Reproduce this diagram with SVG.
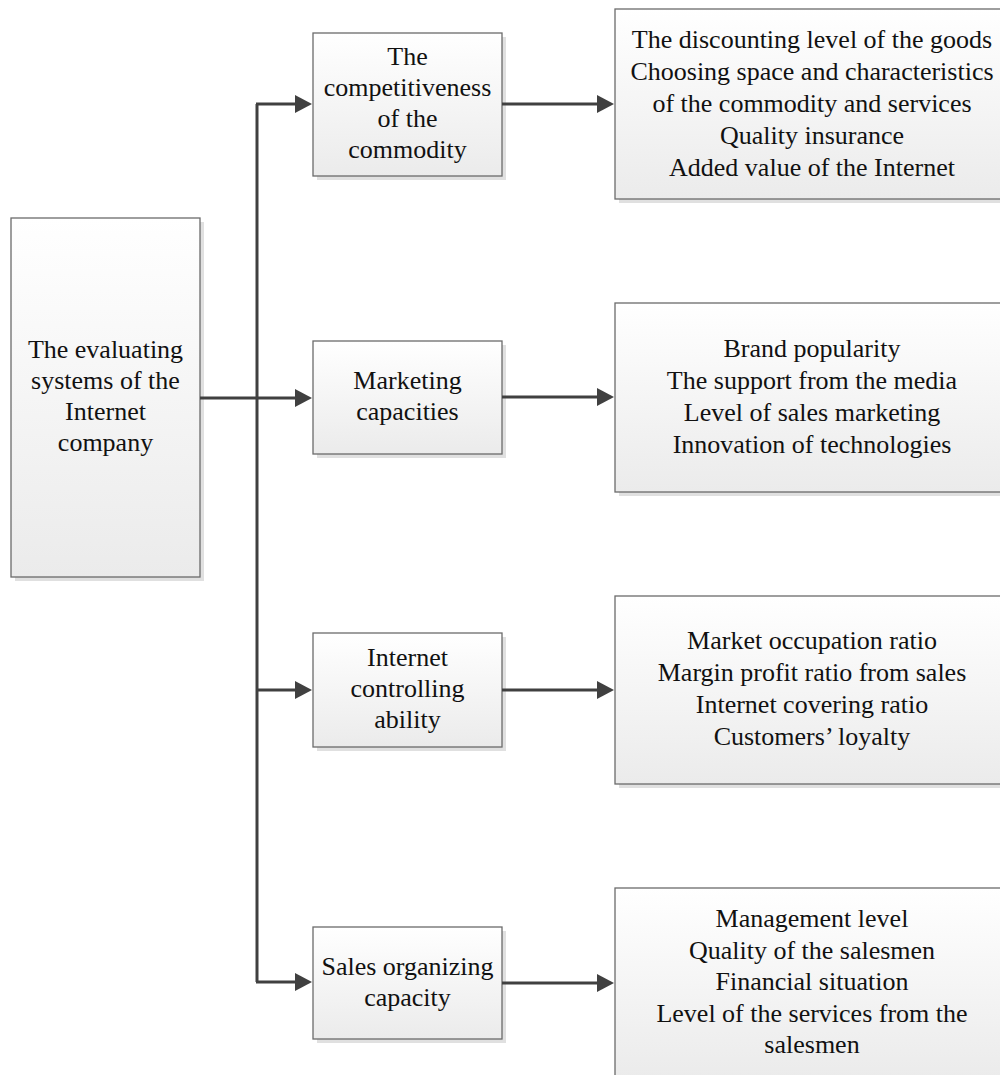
<svg xmlns="http://www.w3.org/2000/svg" width="1000" height="1075" viewBox="0 0 1000 1075">
<style>
.box{fill:url(#g);stroke:#6b6b6b;stroke-width:1.3}
.sh{fill:#e0e0e0}
text{font-family:"Liberation Serif","Times New Roman",serif;font-size:26px;fill:#111;text-anchor:middle}
.c{stroke:#404040;stroke-width:3;fill:none}
.a{stroke:#404040;stroke-width:3;fill:none;marker-end:url(#arr)}
</style>
<defs>
<linearGradient id="g" x1="0" y1="0" x2="0" y2="1">
<stop offset="0" stop-color="#ffffff"/>
<stop offset="1" stop-color="#ebebeb"/>
</linearGradient>
<marker id="arr" markerUnits="userSpaceOnUse" markerWidth="17" markerHeight="18" refX="9" refY="9" orient="auto" viewBox="0 0 17 18">
<path d="M0,0 L17,9 L0,18 z" fill="#404040"/>
</marker>
</defs>
<rect width="1000" height="1075" fill="#fff"/>

<g id="root">
<rect class="sh" x="15" y="222" width="189" height="359"/>
<rect class="box" x="11" y="218" width="189" height="359"/>
<text x="105.5" y="358">The evaluating</text>
<text x="105.5" y="389">systems of the</text>
<text x="105.5" y="420">Internet</text>
<text x="105.5" y="451">company</text>
</g>

<g id="competitiveness">
<rect class="sh" x="317" y="37" width="189" height="143"/>
<rect class="box" x="313" y="33" width="189" height="143"/>
<text x="407.5" y="65">The</text>
<text x="407.5" y="96">competitiveness</text>
<text x="407.5" y="127">of the</text>
<text x="407.5" y="158">commodity</text>
</g>

<g id="marketing">
<rect class="sh" x="317" y="345" width="189" height="113"/>
<rect class="box" x="313" y="341" width="189" height="113"/>
<text x="407.5" y="389">Marketing</text>
<text x="407.5" y="420">capacities</text>
</g>

<g id="controlling">
<rect class="sh" x="317" y="637" width="189" height="114"/>
<rect class="box" x="313" y="633" width="189" height="114"/>
<text x="407.5" y="666">Internet</text>
<text x="407.5" y="697">controlling</text>
<text x="407.5" y="728">ability</text>
</g>

<g id="sales">
<rect class="sh" x="317" y="931" width="189" height="112"/>
<rect class="box" x="313" y="927" width="189" height="112"/>
<text x="407.5" y="975">Sales organizing</text>
<text x="407.5" y="1006">capacity</text>
</g>

<g id="detail1">
<rect class="sh" x="619" y="13" width="394" height="190"/>
<rect class="box" x="615" y="9" width="394" height="190"/>
<text x="812" y="48">The discounting level of the goods</text>
<text x="812" y="80">Choosing space and characteristics</text>
<text x="812" y="112">of the commodity and services</text>
<text x="812" y="144">Quality insurance</text>
<text x="812" y="176">Added value of the Internet</text>
</g>

<g id="detail2">
<rect class="sh" x="619" y="307" width="394" height="189"/>
<rect class="box" x="615" y="303" width="394" height="189"/>
<text x="812" y="357">Brand popularity</text>
<text x="812" y="389">The support from the media</text>
<text x="812" y="421">Level of sales marketing</text>
<text x="812" y="453">Innovation of technologies</text>
</g>

<g id="detail3">
<rect class="sh" x="619" y="600" width="394" height="188"/>
<rect class="box" x="615" y="596" width="394" height="188"/>
<text x="812" y="649">Market occupation ratio</text>
<text x="812" y="681">Margin profit ratio from sales</text>
<text x="812" y="713">Internet covering ratio</text>
<text x="812" y="745">Customers’ loyalty</text>
</g>

<g id="detail4">
<rect class="sh" x="619" y="892" width="394" height="190"/>
<rect class="box" x="615" y="888" width="394" height="190"/>
<text x="812" y="927">Management level</text>
<text x="812" y="959">Quality of the salesmen</text>
<text x="812" y="990">Financial situation</text>
<text x="812" y="1022">Level of the services from the</text>
<text x="812" y="1053">salesmen</text>
</g>

<g id="connectors">
<line class="a" x1="200" y1="398" x2="304" y2="398"/>
<path class="c" d="M257,104 V982"/>
<line class="a" x1="256" y1="104" x2="304" y2="104"/>
<line class="a" x1="256" y1="690" x2="304" y2="690"/>
<line class="a" x1="256" y1="982" x2="304" y2="982"/>
<line class="a" x1="502" y1="104" x2="606" y2="104"/>
<line class="a" x1="502" y1="397" x2="606" y2="397"/>
<line class="a" x1="502" y1="690" x2="606" y2="690"/>
<line class="a" x1="502" y1="983" x2="606" y2="983"/>
</g>
</svg>
